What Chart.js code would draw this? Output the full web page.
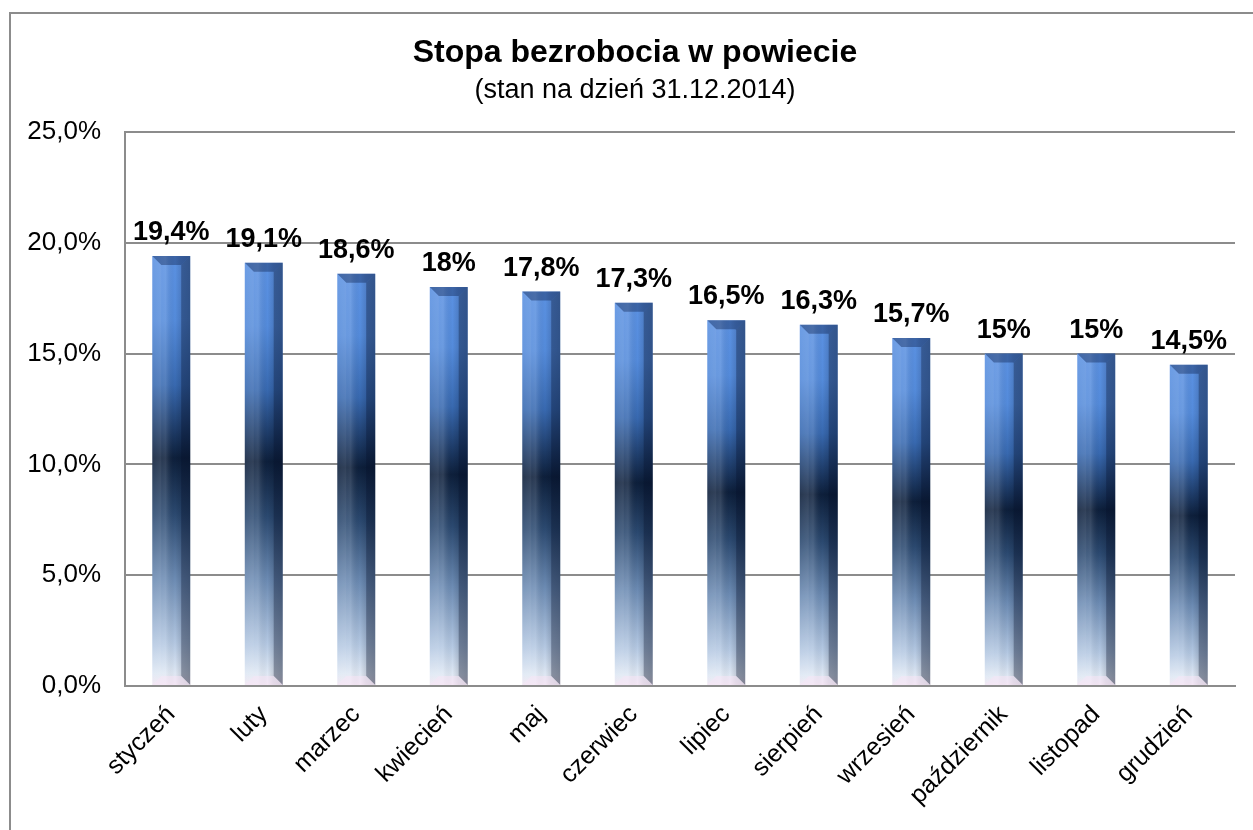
<!DOCTYPE html>
<html>
<head>
<meta charset="utf-8">
<script src="https://cdn.jsdelivr.net/npm/chart.js@4/dist/chart.umd.min.js"></script>
<style>
  html, body { margin: 0; padding: 0; background: #fff; overflow: hidden; }
  #frame { position: absolute; left: 9px; top: 12px; width: 1300px; height: 900px; border: 2px solid #8c8c8c; box-sizing: border-box; }
  #wrap { position: absolute; left: 0; top: 0; width: 1253px; height: 830px; }
</style>
</head>
<body>
<div id="frame"></div>
<div id="wrap"><canvas id="c" width="1253" height="830"></canvas></div>
<script>
const categories = ['styczeń','luty','marzec','kwiecień','maj','czerwiec','lipiec','sierpień','wrzesień','październik','listopad','grudzień'];
const values = [19.4, 19.1, 18.6, 18, 17.8, 17.3, 16.5, 16.3, 15.7, 15, 15, 14.5];
const yTicks = [0, 5, 10, 15, 20, 25];
const titleText = 'Stopa bezrobocia w powiecie';
const subtitleText = '(stan na dzień 31.12.2014)';

const FONT = 'Arial, "Liberation Sans", sans-serif';

function fmtLabel(v) {
  return String(v).replace('.', ',') + '%';
}

function barFill(ctx) {
  const chart = ctx.chart;
  const ys = chart.scales.y;
  if (!ys || ctx.dataIndex === undefined) return '#3d6fb8';
  const top = ys.getPixelForValue(values[ctx.dataIndex]);
  const base = ys.getPixelForValue(0);
  if (!isFinite(top) || !isFinite(base) || top === base) return '#3d6fb8';
  const g = chart.ctx.createLinearGradient(0, top, 0, base);
  g.addColorStop(0.00, '#5b91e2');
  g.addColorStop(0.15, '#548bdb');
  g.addColorStop(0.30, '#3869b0');
  g.addColorStop(0.47, '#0d1f3b');
  g.addColorStop(0.60, '#2b4970');
  g.addColorStop(0.75, '#6c8bb3');
  g.addColorStop(0.90, '#b4c8e2');
  g.addColorStop(0.97, '#dfe8f4');
  g.addColorStop(1.00, '#f2e6f2');
  return g;
}

// centre the title block over the framed area
const titleShift = {
  id: 'titleShift',
  afterLayout(chart) {
    chart.boxes.forEach((b) => {
      if (b.position === 'top' && !b.isHorizontal === false && b.options && b.options.text !== undefined) {
        b.left += 35;
      }
    });
  }
};

const bevelPlugin = {
  id: 'bevel',
  afterDatasetsDraw(chart) {
    const ctx = chart.ctx;
    const meta = chart.getDatasetMeta(0);
    ctx.save();
    meta.data.forEach((bar) => {
      const { x, y, base, width } = bar.getProps(['x', 'y', 'base', 'width'], true);
      const l = x - width / 2, r = x + width / 2;
      const b = 9;
      const hg = ctx.createLinearGradient(l, 0, r, 0);
      hg.addColorStop(0.0, 'rgba(255,255,255,0.05)');
      hg.addColorStop(0.35, 'rgba(255,255,255,0.14)');
      hg.addColorStop(0.6, 'rgba(0,0,0,0)');
      hg.addColorStop(0.75, 'rgba(0,10,30,0.12)');
      hg.addColorStop(1.0, 'rgba(0,10,30,0.2)');
      ctx.fillStyle = hg;
      ctx.fillRect(l, y, width, base - y);
      ctx.fillStyle = 'rgba(5,15,40,0.32)';
      ctx.beginPath();
      ctx.moveTo(r, y); ctx.lineTo(r, base); ctx.lineTo(r - b, base - b); ctx.lineTo(r - b, y + b); ctx.closePath();
      ctx.fill();
      ctx.fillStyle = 'rgba(255,255,255,0.06)';
      ctx.beginPath();
      ctx.moveTo(l, y); ctx.lineTo(l, base); ctx.lineTo(l + b, base - b); ctx.lineTo(l + b, y + b); ctx.closePath();
      ctx.fill();
      ctx.fillStyle = 'rgba(10,30,70,0.38)';
      ctx.beginPath();
      ctx.moveTo(l, y); ctx.lineTo(r, y); ctx.lineTo(r - b, y + b); ctx.lineTo(l + b, y + b); ctx.closePath();
      ctx.fill();
      ctx.fillStyle = 'rgba(245,230,245,0.55)';
      ctx.beginPath();
      ctx.moveTo(l, base); ctx.lineTo(r, base); ctx.lineTo(r - b, base - b); ctx.lineTo(l + b, base - b); ctx.closePath();
      ctx.fill();
    });
    ctx.fillStyle = '#000';
    ctx.font = 'bold 27px ' + FONT;
    ctx.textAlign = 'center';
    ctx.textBaseline = 'alphabetic';
    meta.data.forEach((bar, i) => {
      ctx.fillText(fmtLabel(values[i]), bar.x, bar.y - 16);
    });
    ctx.restore();
  }
};

new Chart(document.getElementById('c'), {
  type: 'bar',
  data: {
    labels: categories,
    datasets: [{
      data: values,
      backgroundColor: barFill,
      borderWidth: 0,
      categoryPercentage: 1.0,
      barPercentage: 0.41
    }]
  },
  plugins: [titleShift, bevelPlugin],
  options: {
    responsive: false,
    animation: false,
    devicePixelRatio: 1,
    layout: { padding: { top: 20, right: 18, left: 0, bottom: 0 } },
    plugins: {
      legend: { display: false },
      tooltip: { enabled: false },
      title: {
        display: true,
        text: titleText,
        color: '#000',
        font: { family: FONT, size: 32, weight: 'bold' },
        padding: { top: 14, bottom: 0 }
      },
      subtitle: {
        display: true,
        text: subtitleText,
        color: '#000',
        font: { family: FONT, size: 27, weight: 'normal' },
        padding: { top: 2.4, bottom: 24.8 }
      }
    },
    scales: {
      x: {
        grid: { display: false, drawTicks: false },
        border: { display: true, color: '#8c8c8c', width: 2 },
        ticks: {
          color: '#000',
          font: { family: FONT, size: 25 },
          maxRotation: 45,
          minRotation: 45,
          padding: 14,
          autoSkip: false
        },
        afterFit(s) { s.height = 144; }
      },
      y: {
        min: 0,
        max: 25,
        afterBuildTicks(s) { s.ticks = yTicks.map(v => ({ value: v })); },
        grid: { color: '#8c8c8c', lineWidth: 2, drawTicks: false },
        border: { display: true, color: '#8c8c8c', width: 2 },
        ticks: {
          color: '#000',
          font: { family: FONT, size: 26 },
          padding: 24,
          callback: (v) => v.toFixed(1).replace('.', ',') + '%'
        },
        afterFit(s) { s.width = 125; }
      }
    }
  }
});
</script>
</body>
</html>
